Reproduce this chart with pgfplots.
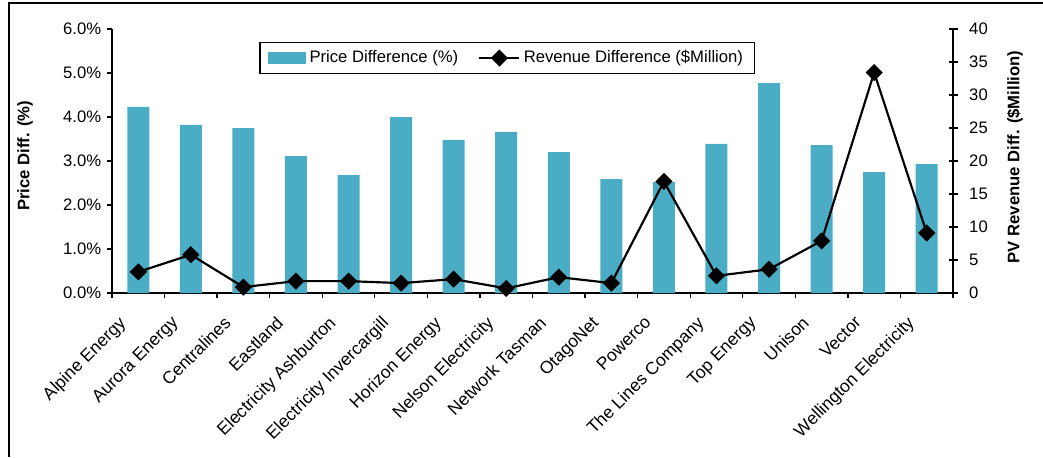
\documentclass[border=0pt]{standalone}
\usepackage{fontspec}
\setmainfont{Liberation Sans}
\usepackage{pgfplots}
\pgfplotsset{compat=1.18}
\usepackage{pgfplotstable}
\definecolor{baraqua}{RGB}{75,172,198}
\pgfplotsset{longline legend/.style={legend image code/.code={\draw[mark repeat=2,mark phase=2,##1] plot coordinates {(0pt,0pt)(12pt,0pt)(24pt,0pt)};}}}
\pgfplotstableread{
x price rev
0 4.23 3.2
1 3.82 5.8
2 3.75 0.9
3 3.11 1.8
4 2.68 1.8
5 4.00 1.5
6 3.48 2.1
7 3.66 0.7
8 3.20 2.4
9 2.59 1.5
10 2.52 16.9
11 3.39 2.6
12 4.77 3.6
13 3.36 7.9
14 2.75 33.4
15 2.93 9.1
}\datatable
\begin{document}
\begin{tikzpicture}[font=\fontsize{10}{12}\selectfont]
\useasboundingbox (0,0) rectangle (625.8pt,274.2pt);
\draw[line width=1.1pt] (5.4pt,0) -- (5.4pt,272.6pt) -- (625.8pt,272.6pt);
\begin{axis}[
  at={(67.2pt,98.4pt)}, anchor=south west,
  width=504.6pt, height=158.4pt, scale only axis,
  xmin=-0.5, xmax=15.5, ymin=0, ymax=6,
  axis x line*=bottom, axis y line*=left,
  axis line style={line width=0.8pt, -},
  every tick/.style={black, line width=0.8pt},
  tick align=outside,
  xtick={0,...,15},
  major x tick style={draw=none},
  minor xtick={-0.5,0.5,...,15.5},
  minor x tick style={black, line width=0.8pt},
  minor tick length=3pt,
  major tick length=3pt,
  xticklabels={Alpine Energy,Aurora Energy,Centralines,Eastland,Electricity Ashburton,Electricity Invercargill,Horizon Energy,Nelson Electricity,Network Tasman,OtagoNet,Powerco,The Lines Company,Top Energy,Unison,Vector,Wellington Electricity},
  xticklabel style={rotate=45, anchor=north east, font=\fontsize{10.5}{12.5}\selectfont, xshift=-12.5pt, yshift=5pt},
  ytick={0,1,...,6},
  yticklabel={\pgfmathprintnumber[fixed,fixed zerofill,precision=1]{\tick}\%},
  /pgf/number format/assume math mode=true,
  ylabel={\bfseries Price Diff. (\%)},
  ylabel style={at={(axis description cs:-0.1034,0.52)}, anchor=center, rotate=0},
  ybar, bar width=13.2pt,
]
\addplot[fill=baraqua, draw=none] table[x=x, y=price] {\datatable};
\end{axis}
\begin{axis}[
  at={(67.2pt,98.4pt)}, anchor=south west,
  width=504.6pt, height=158.4pt, scale only axis,
  xmin=-0.5, xmax=15.5, ymin=0, ymax=40,
  axis x line=none, axis y line*=right,
  axis line style={line width=0.8pt, -},
  every tick/.style={black, line width=0.8pt},
  tick align=center, major tick length=5.4pt,
  ytick={0,5,...,40},
  /pgf/number format/assume math mode=true,
  yticklabel style={xshift=3.5pt},
  ylabel={\bfseries PV Revenue Diff. (\$Million)},
  ylabel style={at={(axis description cs:1.0737,0.515)}, anchor=center, rotate=0},
  legend style={at={(axis description cs:0.47,0.89)}, anchor=center, legend columns=2, draw=black, line width=0.8pt, font=\fontsize{10}{12}\selectfont, /tikz/every even column/.append style={column sep=10pt}, inner xsep=5pt, inner ysep=3pt},
]
\addlegendimage{legend image code/.code={\fill[baraqua] (0pt,-3pt) rectangle (22pt,3pt);}}
\addlegendentry{Price Difference (\%)}
\addplot[black, line width=1.3pt, mark=square*, mark size=3pt, mark options={rotate=45, solid}, longline legend]
  table[x=x, y=rev] {\datatable};
\addlegendentry{Revenue Difference (\$Million)}
\end{axis}
\end{tikzpicture}
\end{document}
